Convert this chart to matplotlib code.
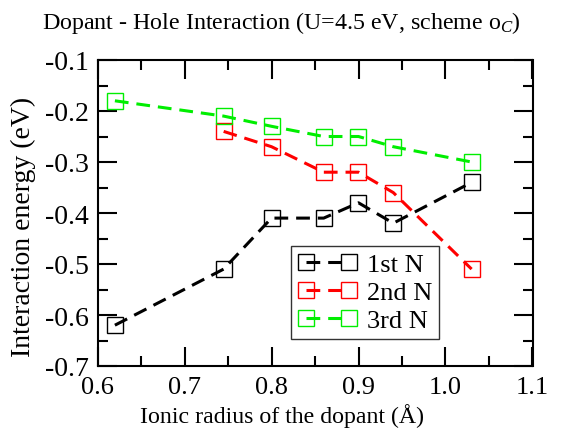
import matplotlib
matplotlib.use("Agg")
import matplotlib.pyplot as plt
from matplotlib.ticker import MultipleLocator, FormatStrFormatter

plt.rcParams["font.family"] = ["Liberation Serif", "DejaVu Serif"]
plt.rcParams["mathtext.fontset"] = "custom"
plt.rcParams["mathtext.rm"] = "Liberation Serif"
plt.rcParams["mathtext.it"] = "Liberation Serif:italic"
plt.rcParams["axes.unicode_minus"] = False

# Ionic radius (Å) and interaction energies (eV) per neighbour shell
radius_1st = [0.62, 0.745, 0.80, 0.86, 0.90, 0.94, 1.03]
energy_1st = [-0.62, -0.51, -0.41, -0.41, -0.38, -0.42, -0.34]

radius_2nd = [0.745, 0.80, 0.86, 0.90, 0.94, 1.03]
energy_2nd = [-0.24, -0.27, -0.32, -0.32, -0.36, -0.51]

radius_3rd = [0.62, 0.745, 0.80, 0.86, 0.90, 0.94, 1.03]
energy_3rd = [-0.18, -0.21, -0.23, -0.25, -0.25, -0.27, -0.30]

series = [
    ("1st N", radius_1st, energy_1st, "black"),
    ("2nd N", radius_2nd, energy_2nd, "#ff0000"),
    ("3rd N", radius_3rd, energy_3rd, "#00ee00"),
]

fig = plt.figure(figsize=(5.85, 4.35), dpi=100)
W, H = 585, 435
ax = fig.add_axes([97.5 / W, 1 - 367 / H, (532.5 - 97.5) / W, (367 - 61) / H])

for label, xs, ys, color in series:
    ax.plot(xs, ys, color=color, lw=2.2, linestyle=(0, (4.5, 2.6)),
            marker="s", markersize=12, markerfacecolor="none",
            markeredgecolor=color, markeredgewidth=1.0, label=label)

ax.set_xlim(0.6, 1.1)
ax.set_ylim(-0.7, -0.1)
ax.xaxis.set_major_locator(MultipleLocator(0.1))
ax.xaxis.set_minor_locator(MultipleLocator(0.05))
ax.yaxis.set_major_locator(MultipleLocator(0.1))
ax.yaxis.set_minor_locator(MultipleLocator(0.05))
ax.xaxis.set_major_formatter(FormatStrFormatter("%.1f"))
ax.yaxis.set_major_formatter(FormatStrFormatter("%.1f"))

for s in ax.spines.values():
    s.set_linewidth(1.5)
ax.tick_params(which="both", direction="in", top=True, right=True, width=1.5)
ax.tick_params(which="major", length=14)
ax.tick_params(which="minor", length=7)
ax.tick_params(axis="x", labelsize=19, pad=7)
ax.tick_params(axis="y", labelsize=20, pad=6)

leg = ax.legend(loc="upper left", bbox_to_anchor=(193.5 / 435, 120 / 306),
                fontsize=19, numpoints=2, handlelength=2.23,
                handletextpad=0.4, borderpad=0.25, labelspacing=0.17,
                fancybox=False, frameon=True, borderaxespad=0)
leg.get_frame().set_edgecolor("black")
leg.get_frame().set_linewidth(1.0)

fig.text(281 / W, 1 - 23 / H,
         r"Dopant - Hole Interaction (U=4.5 eV, scheme o$_{\mathit{C}}$)",
         ha="center", va="center", fontsize=17.3)
fig.text(282 / W, 1 - 416 / H, "Ionic radius of the dopant (Å)",
         ha="center", va="center", fontsize=17.2)
fig.text(23 / W, 1 - 227 / H, "Interaction energy (eV)",
         ha="center", va="center", rotation=90, fontsize=20)

fig.savefig("out.png", dpi=100)
